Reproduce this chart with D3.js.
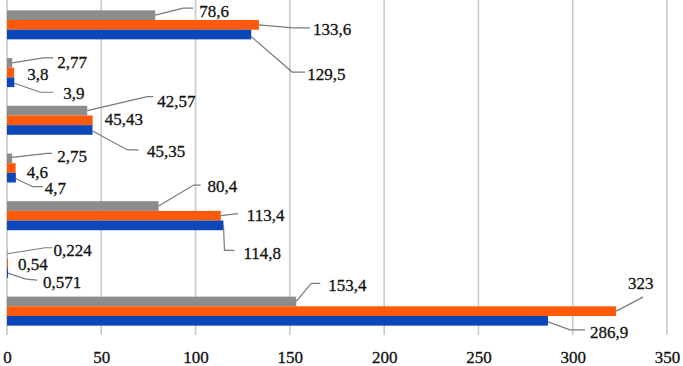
<!DOCTYPE html>
<html>
<head>
<meta charset="utf-8">
<script src="https://cdn.jsdelivr.net/npm/d3@7"></script>
</head>
<body style="margin:0;padding:0;background:#fff">
<svg id="s" width="683" height="366" style="display:block"></svg>
<script>
// ---- data ----
const categories = ["c1", "c2", "c3", "c4", "c5", "c6", "c7"];
const seriesNames = ["gray", "orange", "blue"];
const grayValues   = [78.6, 2.77, 42.57, 2.75, 80.4, 0.224, 153.4];
const orangeValues = [133.6, 3.8, 45.43, 4.6, 113.4, 0.54, 323];
const blueValues   = [129.5, 3.9, 45.35, 4.7, 114.8, 0.571, 286.9];
const grayLabels   = ["78,6", "2,77", "42,57", "2,75", "80,4", "0,224", "153,4"];
const orangeLabels = ["133,6", "3,8", "45,43", "4,6", "113,4", "0,54", "323"];
const blueLabels   = ["129,5", "3,9", "45,35", "4,7", "114,8", "0,571", "286,9"];
const xTicks = [0, 50, 100, 150, 200, 250, 300, 350];

// ---- layout (label placement relative to bar end: text offset + leader polyline) ----
const FONT = "Liberation Serif";
const colors = { gray: "#8c8c8c", orange: "#ff5a0a", blue: "#0b47b8" };
const labelLayout = {
  gray: [
    { t: [44, -4.5], p: [[0, 0], [28, -7], [38, -7]] },
    { t: [45, -1],   p: [[0, 0], [31, -5], [41, -5]] },
    { t: [70, -10],  p: [[0, 0], [60, -14], [66, -14]] },
    { t: [45, -2],   p: [[0, -1], [35, -5], [40, -5]] },
    { t: [49, -20],  p: [[0, 0], [35, -21], [42, -21]] },
    { t: [46, -4],   p: [[0, 0], [38, -6], [45, -6]] },
    { t: [32, -16],  p: [[0, 0], [15, -18], [24, -18]] }
  ],
  orange: [
    { t: [54, 4],    p: [[0, 0], [34, 3], [51, 3]] },
    { t: [13, 1.5],  p: null },
    { t: [12, -1],   p: null },
    { t: [11, 4],    p: null },
    { t: [26, -0.5], p: [[0, 0], [17, -2]] },
    { t: [10, 0.5],  p: null },
    { t: [12, -28],  p: [[0, 0], [27, -14]] }
  ],
  blue: [
    { t: [56, 39.5], p: [[0, 2], [41, 37.5], [54, 37.5]] },
    { t: [49, 11],   p: [[0, 1], [26, 10], [39, 10]] },
    { t: [54.5, 20.6], p: [[0, 1], [35, 20], [46, 20]] },
    { t: [29, 10],   p: [[0, 1], [17, 9], [27, 9]] },
    { t: [20, 28],   p: [[0, 0], [1, 25], [11, 25]] },
    { t: [35, 9],    p: [[0, 0], [18, 6], [29, 7]] },
    { t: [42, 11],   p: [[0, 1], [22, 9], [37, 9]] }
  ]
};

function serif(sel) {
  sel.each(function () {
    this.style.setProperty("font-family", FONT, "important");
    this.style.setProperty("font-size", "17px", "important");
  });
  sel.attr("font-family", FONT).attr("font-size", 17)
     .attr("fill", "#111").attr("stroke", "#111").attr("stroke-width", 0.3);
}

const svg = d3.select("#s");
const plot = { left: 7, right: 667, top: 1, bottom: 335 };

const x = d3.scaleLinear().domain([0, 350]).range([plot.left, plot.right]);
const y0 = d3.scaleBand().domain(categories).range([plot.top, plot.bottom]).padding(0);
const y1 = d3.scaleBand().domain(seriesNames).range([0, y0.bandwidth()])
  .paddingInner(0).paddingOuter(0.967);

// gridlines
svg.append("g").selectAll("line").data(xTicks).join("line")
  .attr("x1", d => x(d)).attr("x2", d => x(d))
  .attr("y1", 0).attr("y2", plot.bottom)
  .attr("stroke", "#c9c9c9").attr("stroke-width", 1.6);

// axis labels
const axis = d3.axisBottom(x).tickValues(xTicks).tickSize(0).tickPadding(0)
  .tickFormat(d3.format("d"));
const ax = svg.append("g").attr("transform", `translate(0,${plot.bottom})`).call(axis);
ax.attr("font-family", FONT).attr("font-size", 17);
ax.select(".domain").remove();
ax.selectAll("text").attr("y", 22).attr("dy", "0.35em").call(serif);

const seriesData = { gray: grayValues, orange: orangeValues, blue: blueValues };
const seriesLabels = { gray: grayLabels, orange: orangeLabels, blue: blueLabels };

// bars
seriesNames.forEach(s => {
  svg.append("g").selectAll("rect").data(seriesData[s]).join("rect")
    .attr("x", x(0))
    .attr("y", (d, i) => y0(categories[i]) + y1(s))
    .attr("width", d => x(d) - x(0))
    .attr("height", y1.bandwidth())
    .attr("fill", colors[s]);
});

// labels + leaders
const line = d3.line();
seriesNames.forEach(s => {
  const g = svg.append("g");
  seriesData[s].forEach((v, i) => {
    const ex = x(v);
    const ey = y0(categories[i]) + y1(s) + y1.bandwidth() / 2;
    const L = labelLayout[s][i];
    if (L.p) {
      g.append("path")
        .attr("d", line(L.p.map(p => [ex + p[0], ey + p[1]])))
        .attr("fill", "none").attr("stroke", "#7a7a7a").attr("stroke-width", 1.2);
    }
    g.append("text")
      .attr("x", ex + L.t[0]).attr("y", ey + L.t[1])
      .attr("dy", "0.35em")
      .text(seriesLabels[s][i])
      .call(serif);
  });
});
</script>
</body>
</html>
